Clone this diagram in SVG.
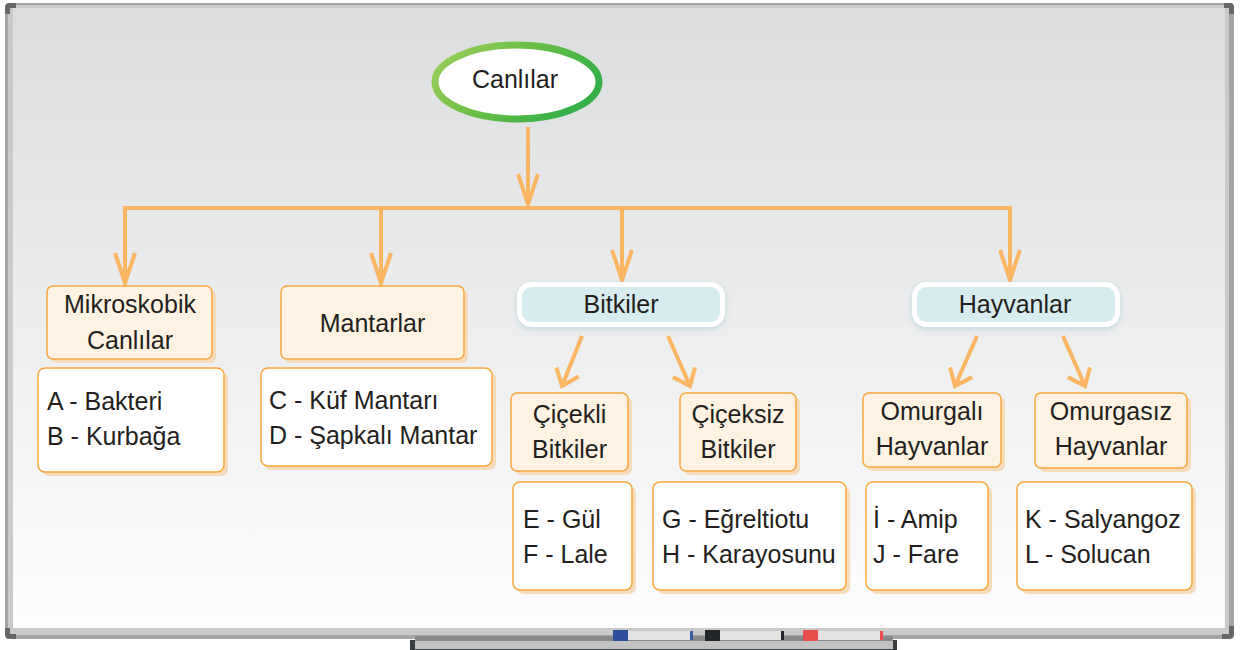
<svg xmlns="http://www.w3.org/2000/svg" width="1240" height="650" viewBox="0 0 1240 650">
<defs>
<linearGradient id="board" x1="0" y1="0" x2="0" y2="1">
<stop offset="0" stop-color="#dcdddf"/>
<stop offset="1" stop-color="#fdfdfd"/>
</linearGradient>
<linearGradient id="green" x1="0" y1="0" x2="1" y2="0.4">
<stop offset="0" stop-color="#9fd05f"/>
<stop offset="0.5" stop-color="#6dbf45"/>
<stop offset="1" stop-color="#36b14a"/>
</linearGradient>
<filter id="soft" x="-20%" y="-40%" width="140%" height="180%">
<feDropShadow dx="0" dy="2" stdDeviation="3" flood-color="#9fc8cc" flood-opacity="0.6"/>
</filter>
<marker id="ahL" markerUnits="userSpaceOnUse" viewBox="-36 -16 40 32" refX="0" refY="0" markerWidth="40" markerHeight="32" orient="auto">
<path d="M-30,-10 L0,0 L-30,10" fill="none" stroke="#fbb563" stroke-width="4"/>
</marker>
<marker id="ahS" markerUnits="userSpaceOnUse" viewBox="-24 -18 28 36" refX="0" refY="0" markerWidth="28" markerHeight="36" orient="auto">
<path d="M-15,-12 L0,0 L-15,12" fill="none" stroke="#fbb563" stroke-width="4"/>
</marker>
</defs>
<style>
.t{font-family:"Liberation Sans",Arial,sans-serif;font-size:25px;fill:#231f20}
.m{text-anchor:middle}
.cat{fill:#fef2e2;stroke:#f8a83c;stroke-width:1.5}
.item{fill:#ffffff;stroke:#f8a83c;stroke-width:1.5}
.sh{fill:#f6dcbb}
.main{fill:#d6ecee;stroke:#ffffff;stroke-width:5}
.c{fill:none;stroke:#fbb563;stroke-width:4}
</style>
<rect width="1240" height="650" fill="#ffffff"/>
<g id="board-frame">
<rect x="5" y="3" width="1229" height="636" rx="4" fill="#a4a4a4"/>
<rect x="8" y="5" width="1221" height="630" fill="#cacaca"/>
<rect x="13" y="8" width="1212" height="620" fill="url(#board)"/>
<path d="M5,14 L5,8 Q5,3 10,3 L16,3 L16,8 L10,8 L10,14 Z" fill="#666"/>
<path d="M1224,3 L1230,3 Q1234,3 1234,8 L1234,14 L1229,14 L1229,8 L1224,8 Z" fill="#666"/>
<path d="M5,628 L10,628 L10,634 L16,634 L16,639 L10,639 Q5,639 5,634 Z" fill="#666"/>
<path d="M1229,626 L1234,626 L1234,633 Q1234,639 1228,639 L1222,639 L1222,634 L1229,634 Z" fill="#666"/>
</g>
<g id="marker-tray">
<rect x="410" y="640" width="487" height="10" fill="#3a3d40"/>
<rect x="415" y="636" width="478" height="6" fill="#868a8a"/>
<rect x="415" y="641" width="478" height="8" fill="#c2c2c2"/>
<rect x="613" y="630" width="15" height="11" fill="#2c4e9c"/>
<rect x="628" y="631" width="62" height="9" fill="#e3e4e2"/>
<rect x="690" y="631" width="3" height="9" fill="#3b5aa8"/>
<rect x="705" y="630" width="15" height="11" fill="#222629"/>
<rect x="720" y="631" width="61" height="9" fill="#e3e4e2"/>
<rect x="781" y="631" width="3" height="9" fill="#222629"/>
<rect x="803" y="630" width="15" height="11" fill="#e84e4e"/>
<rect x="818" y="631" width="62" height="9" fill="#e3e4e2"/>
<rect x="880" y="631" width="3" height="9" fill="#e84e4e"/>
</g>
<g id="connectors">
<line class="c" x1="528" y1="127" x2="528" y2="204" marker-end="url(#ahL)"/>
<polyline class="c" points="125,283 125,208 1010,208 1010,280"/>
<line class="c" x1="125" y1="208" x2="125" y2="283" marker-end="url(#ahL)"/>
<line class="c" x1="381" y1="208" x2="381" y2="283" marker-end="url(#ahL)"/>
<line class="c" x1="622" y1="208" x2="622" y2="280" marker-end="url(#ahL)"/>
<line class="c" x1="1010" y1="208" x2="1010" y2="280" marker-end="url(#ahL)"/>
<line class="c" x1="582" y1="336" x2="562" y2="386" marker-end="url(#ahS)"/>
<line class="c" x1="668" y1="336" x2="690" y2="386" marker-end="url(#ahS)"/>
<line class="c" x1="977" y1="336" x2="955" y2="386" marker-end="url(#ahS)"/>
<line class="c" x1="1063" y1="336" x2="1085" y2="386" marker-end="url(#ahS)"/>
</g>
<g id="canlilar">
<ellipse cx="517" cy="82" rx="82" ry="37" fill="#ffffff" stroke="url(#green)" stroke-width="7"/>
<text class="t m" x="515" y="88">Canlılar</text>
</g>
<g id="mikroskobik">
<rect class="sh" x="51" y="290" width="165" height="73" rx="6"/>
<rect class="cat" x="47" y="286" width="165" height="73" rx="6"/>
<text class="t m" x="130" y="313">Mikroskobik</text>
<text class="t m" x="130" y="349">Canlılar</text>
</g>
<g id="mikroskobik-items">
<rect class="sh" x="42" y="372" width="186" height="104" rx="7"/>
<rect class="item" x="38" y="368" width="186" height="104" rx="7"/>
<text class="t" x="47" y="410">A - Bakteri</text>
<text class="t" x="47" y="445">B - Kurbağa</text>
</g>
<g id="mantarlar">
<rect class="sh" x="285" y="290" width="183" height="73" rx="6"/>
<rect class="cat" x="281" y="286" width="183" height="73" rx="6"/>
<text class="t m" x="372.5" y="332">Mantarlar</text>
</g>
<g id="mantarlar-items">
<rect class="sh" x="265" y="372" width="231" height="98" rx="7"/>
<rect class="item" x="261" y="368" width="231" height="98" rx="7"/>
<text class="t" x="269" y="409">C - Küf Mantarı</text>
<text class="t" x="269" y="444">D - Şapkalı Mantar</text>
</g>
<g id="bitkiler">
<rect class="main" x="519.5" y="284.5" width="203" height="40" rx="12" filter="url(#soft)"/>
<text class="t m" x="621" y="313">Bitkiler</text>
</g>
<g id="hayvanlar">
<rect class="main" x="914.5" y="284.5" width="203" height="40" rx="12" filter="url(#soft)"/>
<text class="t m" x="1015" y="313">Hayvanlar</text>
</g>
<g id="cicekli">
<rect class="sh" x="515" y="397" width="117" height="78" rx="6"/>
<rect class="cat" x="511" y="393" width="117" height="78" rx="6"/>
<text class="t m" x="569.5" y="423">Çiçekli</text>
<text class="t m" x="569.5" y="458">Bitkiler</text>
</g>
<g id="cicekli-items">
<rect class="sh" x="517" y="486" width="119" height="108" rx="7"/>
<rect class="item" x="513" y="482" width="119" height="108" rx="7"/>
<text class="t" x="523" y="528">E - Gül</text>
<text class="t" x="523" y="563">F - Lale</text>
</g>
<g id="ciceksiz">
<rect class="sh" x="684" y="397" width="116" height="78" rx="6"/>
<rect class="cat" x="680" y="393" width="116" height="78" rx="6"/>
<text class="t m" x="738" y="423">Çiçeksiz</text>
<text class="t m" x="738" y="458">Bitkiler</text>
</g>
<g id="ciceksiz-items">
<rect class="sh" x="657" y="486" width="193" height="108" rx="7"/>
<rect class="item" x="653" y="482" width="193" height="108" rx="7"/>
<text class="t" x="662" y="528">G - Eğreltiotu</text>
<text class="t" x="662" y="563">H - Karayosunu</text>
</g>
<g id="omurgali">
<rect class="sh" x="867" y="397" width="138" height="74" rx="6"/>
<rect class="cat" x="863" y="393" width="138" height="74" rx="6"/>
<text class="t m" x="932" y="420">Omurgalı</text>
<text class="t m" x="932" y="455">Hayvanlar</text>
</g>
<g id="omurgali-items">
<rect class="sh" x="870" y="486" width="122" height="108" rx="7"/>
<rect class="item" x="866" y="482" width="122" height="108" rx="7"/>
<text class="t" x="873" y="528">İ - Amip</text>
<text class="t" x="873" y="563">J - Fare</text>
</g>
<g id="omurgasiz">
<rect class="sh" x="1039" y="397" width="152" height="75" rx="6"/>
<rect class="cat" x="1035" y="393" width="152" height="75" rx="6"/>
<text class="t m" x="1111" y="420">Omurgasız</text>
<text class="t m" x="1111" y="455">Hayvanlar</text>
</g>
<g id="omurgasiz-items">
<rect class="sh" x="1021" y="486" width="175" height="108" rx="7"/>
<rect class="item" x="1017" y="482" width="175" height="108" rx="7"/>
<text class="t" x="1025" y="528">K - Salyangoz</text>
<text class="t" x="1025" y="563">L - Solucan</text>
</g>
</svg>
